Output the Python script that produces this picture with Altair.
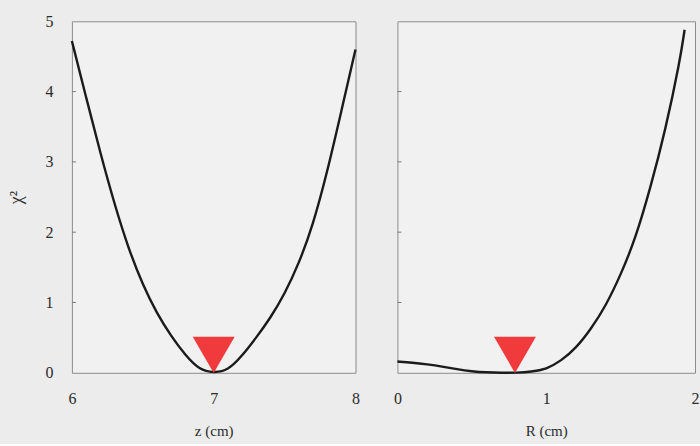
import altair as alt
import pandas as pd

# ---- data ----
z_cm = [6.0, 6.1, 6.2, 6.3, 6.4, 6.5, 6.6, 6.7, 6.8, 6.9, 7.0,
        7.1, 7.2, 7.3, 7.4, 7.5, 7.6, 7.7, 7.8, 7.9, 8.0]
chi2_z = [4.72, 3.92, 3.13, 2.40, 1.76, 1.25, 0.84, 0.52, 0.25, 0.04, 0.0,
          0.03, 0.24, 0.50, 0.78, 1.12, 1.55, 2.10, 2.85, 3.72, 4.6]

r_cm = [0.0, 0.1, 0.2, 0.3, 0.4, 0.5, 0.6, 0.7, 0.8, 0.9, 1.0,
        1.1, 1.2, 1.3, 1.4, 1.5, 1.6, 1.7, 1.8, 1.9, 1.93]
chi2_r = [0.16, 0.145, 0.12, 0.09, 0.05, 0.02, 0.005, 0.0, 0.0, 0.015, 0.05,
          0.17, 0.35, 0.62, 0.95, 1.39, 1.91, 2.63, 3.44, 4.45, 4.88]

z_best = [7.0]
r_best = [0.79]
chi2_best = [0.0]

y_tick_values = [1, 2, 3, 4]
z_labels = [6, 7, 8]
r_labels = [0, 1, 2]
chi2_labels = [0, 1, 2, 3, 4, 5]

FONT = "Liberation Serif, Times New Roman, serif"
LINE = "#1b1b1b"
RED = "#f03a3c"
TICK = "#7a7a7a"
TEXT = "#2b2b2b"

left_line_df = pd.DataFrame({"x": z_cm, "chi2": chi2_z})
right_line_df = pd.DataFrame({"x": r_cm, "chi2": chi2_r})
left_best_df = pd.DataFrame({"x": z_best, "chi2": chi2_best})
right_best_df = pd.DataFrame({"x": r_best, "chi2": chi2_best})
ticks_df = pd.DataFrame({"chi2": y_tick_values})


def panel(line_df, best_df, xdomain, xvalues, xtitle, show_y):
    xs = alt.Scale(domain=xdomain, nice=False, zero=False)
    ys = alt.Scale(domain=[0, 5], nice=False, zero=False)
    xaxis = alt.Axis(values=xvalues, title=xtitle, ticks=False, domain=False,
                     grid=False, labelPadding=18, titlePadding=17, format=".0f",
                     labelOverlap=False, labelFlush=False, labelBound=False)
    if show_y:
        yaxis = alt.Axis(values=chi2_labels, title="χ²", ticks=False, domain=False,
                         grid=False, labelPadding=19, titlePadding=19, format=".0f",
                         labelOverlap=False, labelFlush=False, titleFontSize=18)
    else:
        yaxis = alt.Axis(values=chi2_labels, title=None, ticks=False, domain=False,
                         grid=False, labels=False)
    line = alt.Chart(line_df).mark_line(color=LINE, strokeWidth=2.4, interpolate="basis").encode(
        x=alt.X("x:Q", scale=xs, axis=xaxis),
        y=alt.Y("chi2:Q", scale=ys, axis=yaxis),
    )
    tri = alt.Chart(best_df).mark_point(shape="triangle-down", filled=True, size=1764,
                                        color=RED, opacity=1, yOffset=-18).encode(
        x=alt.X("x:Q", scale=xs, axis=xaxis),
        y=alt.Y("chi2:Q", scale=ys, axis=yaxis),
    )
    ticks = alt.Chart(ticks_df).mark_rule(color=TICK, strokeWidth=1).encode(
        y=alt.Y("chi2:Q", scale=ys, axis=yaxis),
        x=alt.value(0),
        x2=alt.value(4),
    )
    return alt.layer(line, ticks, tri)


left = panel(left_line_df, left_best_df, [6, 8], z_labels, "z (cm)", True).properties(width=284, height=352)
right = panel(right_line_df, right_best_df, [0, 2], r_labels, "R (cm)", False).properties(width=298, height=352)

chart = alt.hconcat(left, right, spacing=30).configure(
    background="#ececec",
    padding={"left": 7, "top": 12, "right": 0, "bottom": 4},
).configure_view(
    stroke="#8c8c8c", strokeWidth=1, fill="#f1f1f1"
).configure_axis(
    labelFont=FONT, labelFontSize=16, labelColor=TEXT,
    titleFont=FONT, titleFontSize=15, titleColor=TEXT, titleFontWeight="normal",
    labelOverlap=False,
)

chart.save("out.html", embed_options={"renderer": "svg", "actions": False})
